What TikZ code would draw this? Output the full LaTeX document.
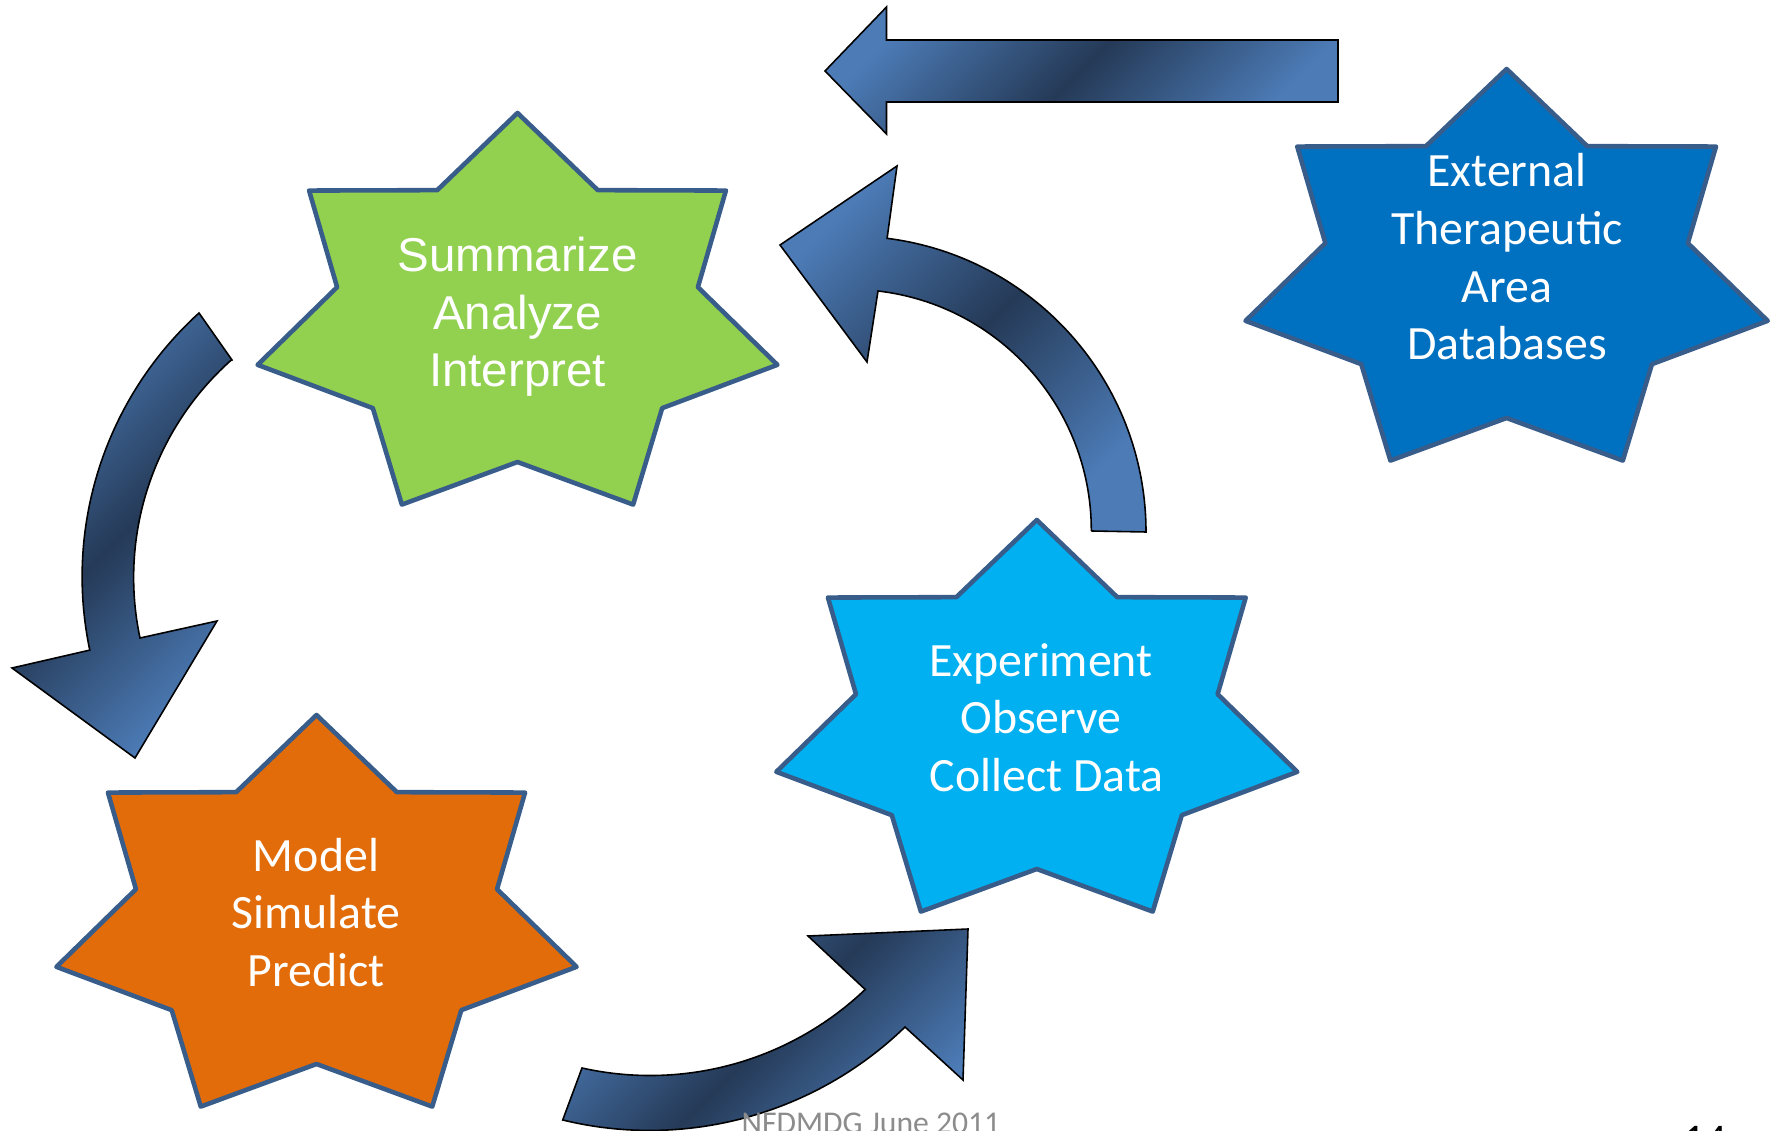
\documentclass[tikz,border=0pt]{standalone}
\usepackage{fontspec}
\setmainfont{Carlito}
\newfontfamily\arialfont{Liberation Sans}
\begin{document}
\begin{tikzpicture}[x=0.01cm,y=-0.01cm]
  \definecolor{starline}{RGB}{56,93,138}
  \definecolor{greenstar}{RGB}{146,208,80}
  \definecolor{orangestar}{RGB}{227,108,10}
  \definecolor{cyanstar}{RGB}{0,176,240}
  \definecolor{bluestar}{RGB}{0,112,192}
  \definecolor{arrowlight}{RGB}{76,123,182}
  \definecolor{arrowdark}{RGB}{37,58,87}
  \definecolor{footergray}{RGB}{140,140,140}
  \tikzset{
    starshape/.style={draw=starline, line width=1.3pt, line join=round},
    blockarrow/.style={draw=black, line width=0.45pt, line join=miter,
      top color=arrowlight, bottom color=arrowlight, middle color=arrowdark,
      shading angle=45},
    startext/.style={text=white, align=center, inner sep=0pt,
      font=\fontsize{13.6}{16.4}\selectfont},
  }
  % seven-pointed star: centre, horizontal stretch, fill colour
  \newcommand{\drawheptastar}[4]{%
    \begin{scope}[shift={(#1,#2)}, xscale=#3]
      \filldraw[starshape, fill=#4] (270:206)
        \foreach \k in {1,...,13} { -- ({270+\k*360/14}:{ifthenelse(isodd(\k),143,206)}) } -- cycle;
    \end{scope}}

  \useasboundingbox (0,0) rectangle (1776,1131);
  \clip (0,0) rectangle (1776,1131);
  \fill[white] (0,0) rectangle (1776,1131);

  % stars
  \drawheptastar{517.5}{319}{1.294}{greenstar}
  \drawheptastar{316.5}{921}{1.295}{orangestar}
  \drawheptastar{1036.8}{726}{1.297}{cyanstar}
  \drawheptastar{1506.6}{275}{1.30}{bluestar}

  % block arrows
  \draw[blockarrow] (825,71) -- (886.5,7) -- (886.5,40) -- (1338,40) -- (1338,102)
    -- (886.5,102) -- (886.5,134) -- cycle;
  \draw[blockarrow] (232,360) -- (199,313)
    arc[start angle=227.8, end angle=168.1, radius=356]
    -- (12,668) -- (135,758) -- (217,621) -- (140,638)
    arc[start angle=168.0, end angle=228.2, radius=291] -- cycle;
  \draw[blockarrow] (1092,531) -- (1146,532)
    arc[start angle=0, end angle=-82.8, radius=296]
    -- (897,166) -- (780,245) -- (867,362) -- (878,291)
    arc[start angle=-83.4, end angle=0, radius=241] -- cycle;
  \draw[blockarrow] (582,1068)
    arc[start angle=102.6, end angle=46.4, radius=312]
    -- (808,936) -- (968,929) -- (963,1080) -- (905,1027)
    arc[start angle=45.9, end angle=103.7, radius=367] -- cycle;

  % labels
  \node[startext, font=\arialfont\fontsize{13.5}{16.4}\selectfont] (summarize) at (517.5,317)
    {Summarize\\Analyze\\Interpret};
  \node[startext] (model) at (316,912.5) {Model\\Simulate\\Predict};
  \node[startext] (experiment) at (1041,717.5) {Experiment\\Observe\\\hspace*{0.23em}Collect Data};
  \node[startext] (external) at (1507,257) {External\\Therapeutic\\Area\\Databases};

  \node[anchor=base west, inner sep=0pt, text=footergray,
    font=\fontsize{9}{11}\selectfont] (footer) at (741,1133) {NFDMDG June 2011};
  \node[anchor=base west, inner sep=0pt, text=black,
    font=\fontsize{12}{14}\selectfont] (pagenum) at (1683,1153) {14};
\end{tikzpicture}
\end{document}
